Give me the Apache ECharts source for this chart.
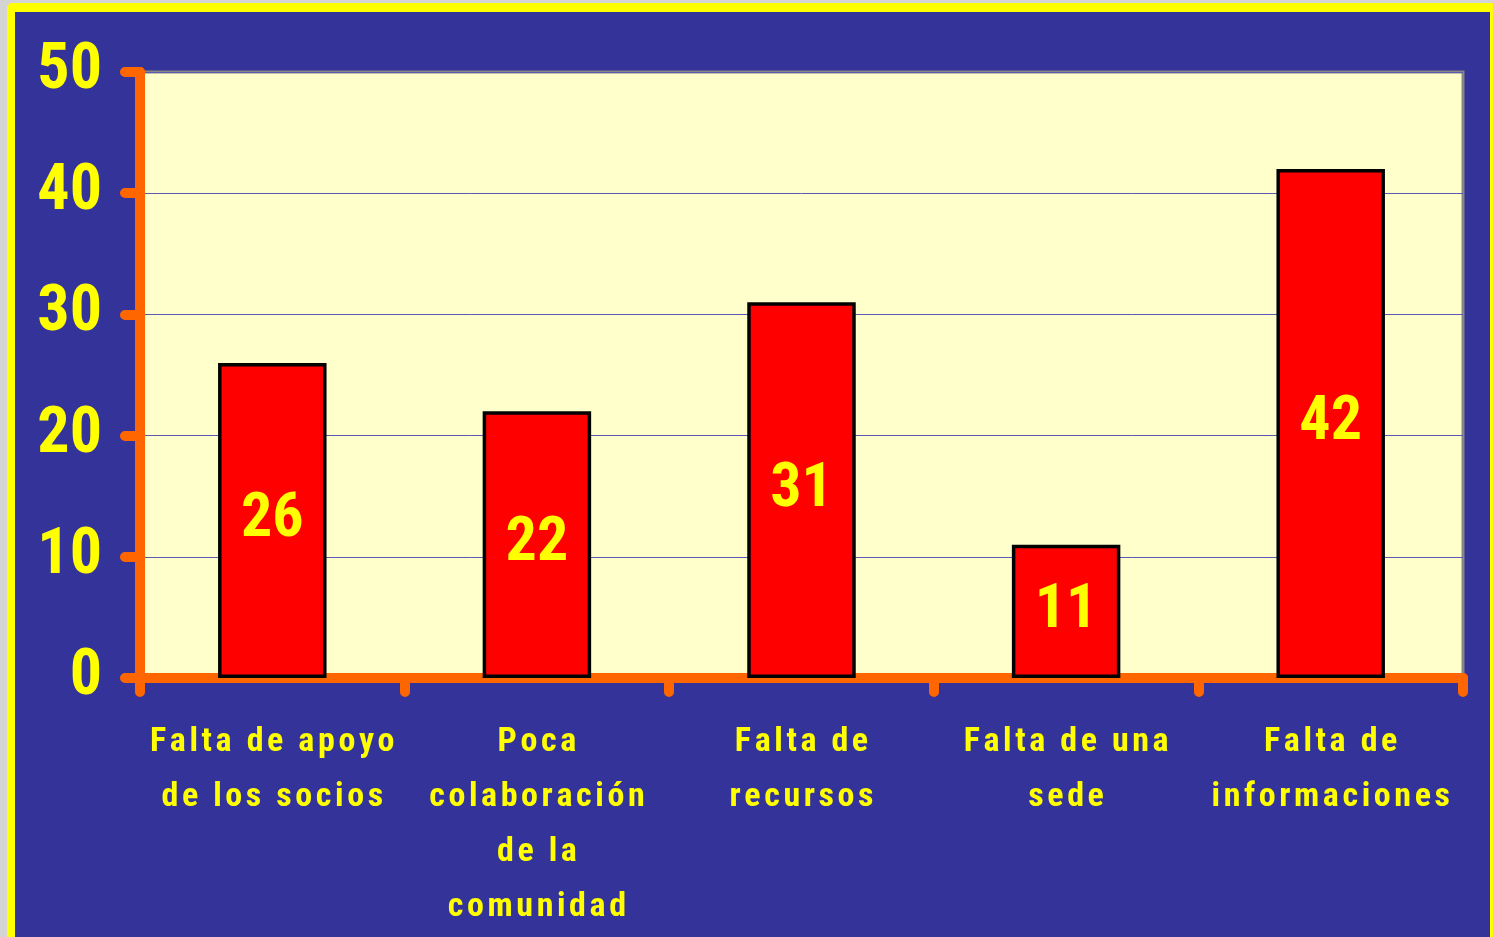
<!DOCTYPE html>
<html>
<head>
<meta charset="utf-8">
<script src="https://cdn.jsdelivr.net/npm/echarts@6/dist/echarts.min.js"></script>
<style>
  html, body { margin: 0; padding: 0; background: #d4d4d4; overflow: hidden; }
  #main {
    position: absolute; left: 7px; top: 3px;
    width: 1475px; height: 925px;
    border-left: 8px solid #ffff00; border-top: 9px solid #ffff00; border-right: 3px solid #ffff00;
    border-top-left-radius: 6px;
    background: #333399;
  }
</style>
</head>
<body>
<div id="main"></div>
<script>
// datos del gráfico
var categorias = [
    'Falta de apoyo\nde los socios',
    'Poca\ncolaboración\nde la\ncomunidad',
    'Falta de\nrecursos',
    'Falta de una\nsede',
    'Falta de\ninformaciones'
];
var valores = [26, 22, 31, 11, 42];
var ejeY = [0, 10, 20, 30, 40, 50];

var fuente = '"Roboto Condensed", "Liberation Sans", sans-serif';
var naranja = '#ff6600';
var amarillo = '#ffff00';

// espaciado entre letras con espacios finos
function espaciar(txt) {
    return txt.split('\n').map(function (l) {
        return l.split('').join('\u200a');
    }).join('\n');
}

function init() {
    var chart = echarts.init(document.getElementById('main'));
    chart.setOption({
        backgroundColor: '#333399',
        animation: false,
        grid: {
            left: 125, right: 27, top: 60, bottom: 259,
            show: true, backgroundColor: '#ffffcc',
            borderColor: '#868686', borderWidth: 3
        },
        xAxis: {
            type: 'category',
            data: categorias,
            axisLine: { lineStyle: { color: naranja, width: 10, cap: 'round' } },
            axisTick: { show: true, length: 14, lineStyle: { color: naranja, width: 10, cap: 'round' } },
            axisLabel: {
                color: amarillo, fontFamily: fuente, fontWeight: 'bold',
                fontSize: 34, lineHeight: 55, margin: 37, interval: 0,
                formatter: espaciar
            }
        },
        yAxis: {
            type: 'value',
            min: ejeY[0], max: ejeY[ejeY.length - 1], interval: 10,
            axisLine: { show: true, lineStyle: { color: naranja, width: 10, cap: 'round' } },
            axisTick: { show: true, length: 15, lineStyle: { color: naranja, width: 10, cap: 'round' } },
            axisLabel: {
                color: amarillo, fontFamily: fuente, fontWeight: 'bold',
                fontSize: 64, margin: 38
            },
            splitLine: { lineStyle: { color: '#5a5ab4', width: 1 } }
        },
        series: [{
            type: 'bar',
            data: valores,
            barWidth: '41%',
            itemStyle: { color: '#ff0000', borderColor: '#000000', borderWidth: 3.5 },
            label: {
                show: true, position: 'inside',
                color: amarillo, fontFamily: fuente, fontWeight: 'bold', fontSize: 62
            }
        }]
    });
}

window.addEventListener('DOMContentLoaded', init);
</script>
</body>
</html>
